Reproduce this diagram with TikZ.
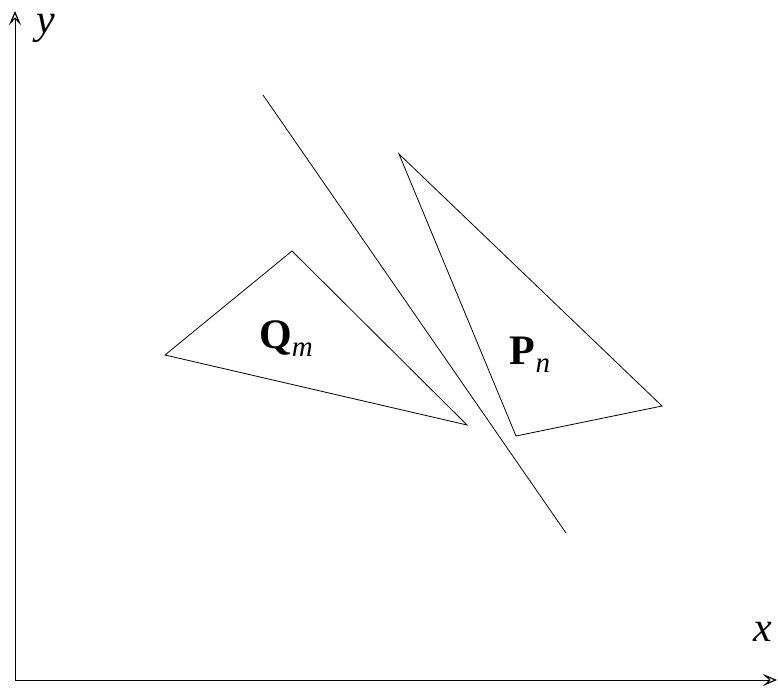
\documentclass[tikz,border=0pt]{standalone}
\usepackage{fontspec}
\setmainfont{Liberation Serif}
\newfontfamily\timesf{Liberation Serif}
\usetikzlibrary{arrows.meta}
\newcommand{\tri}[3]{\draw[line width=0.8pt] (#1)--(#2)--(#3)--cycle;}
\newcommand{\bigfont}{\timesf\fontsize{42}{46}\selectfont}
\newcommand{\sublab}[1]{{\fontsize{29}{32}\selectfont\raisebox{-8pt}{\itshape #1}}}

\begin{document}
\begin{tikzpicture}[x=1pt,y=1pt]
\useasboundingbox (0,0) rectangle (778,688);
\coordinate (o) at (15,8);
\coordinate (xend) at (777,8);
\coordinate (yend) at (15,677);
\draw[line width=1pt,-{Stealth[open,length=14pt,width=12pt,inset=6pt,line width=1.2pt]}] (o)--(xend);
\draw[line width=1pt,-{Stealth[open,length=14pt,width=12pt,inset=6pt,line width=1.2pt]}] (o)--(yend);
\node[font=\bigfont\itshape,inner sep=0pt] (ylab) at (46,660) {y};
\node[font=\bigfont\itshape,inner sep=0pt] (xlab) at (763,56) {x};
\coordinate (l1) at (263,593);
\coordinate (l2) at (566,155);
\draw[line width=0.8pt] (l1)--(l2);
\coordinate (q1) at (165,333);
\coordinate (q2) at (292,437);
\coordinate (q3) at (467,263);
\tri{q1}{q2}{q3}
\coordinate (p1) at (399,534);
\coordinate (p2) at (662,282);
\coordinate (p3) at (516,252);
\tri{p1}{p2}{p3}
\node[font=\bigfont] (qlab) at (286,349) {\textbf{Q}\sublab{m}};
\node[font=\bigfont] (plab) at (530,333) {\textbf{P}\sublab{n}};
\end{tikzpicture}
\end{document}
